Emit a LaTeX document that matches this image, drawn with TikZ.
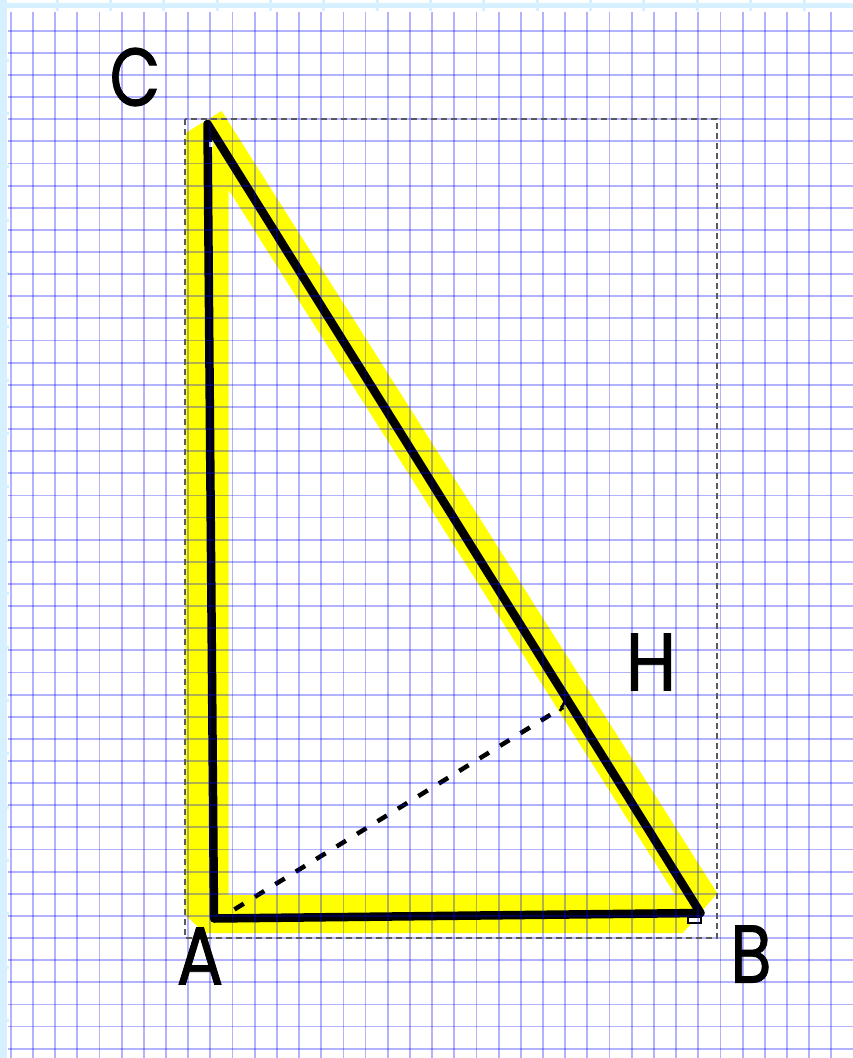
\documentclass[tikz,border=0pt]{standalone}
\usepackage{fontspec}
\newfontfamily\lblfont{Poppins}[FakeBold=1.0]
\begin{document}
\begin{tikzpicture}[x=1pt,y=-1pt,
  gridline/.style={draw=blue,draw opacity=0.3,line width=1.8pt},
  rulerband/.style={fill={rgb,255:red,214;green,240;blue,255}},
  rulertick/.style={draw={rgb,255:red,214;green,240;blue,255},line width=3pt},
  hilite/.style={fill={rgb,255:red,255;green,255;blue,0},even odd rule},
  frame/.style={draw={rgb,255:red,90;green,90;blue,90},line width=1.2pt,dash pattern=on 6pt off 4pt},
  leg/.style={draw=black,line width=8.5pt,line join=round,line cap=round},
  altline/.style={draw=black,line width=4.5pt,dash pattern=on 11pt off 13pt},
  ptmark/.style={fill=white,draw=black,line width=1.2pt},
  lbl/.style={inner sep=0pt,font=\lblfont\fontsize{82}{82}\selectfont,text=black}]
\useasboundingbox (0,0) rectangle (853,1058);
\fill[white] (0,0) rectangle (853,1058);
% ruler
\fill[rulerband] (0,3) rectangle (853,7.5);
\fill[rulerband] (0,0) rectangle (6.5,1058);
\foreach \k in {0,...,14} \draw[rulertick] ({57+53.36*\k},0) -- ({57+53.36*\k},11);
\foreach \k in {0,...,18} \draw[rulertick] (0,{60+53.37*\k}) -- (9,{60+53.37*\k});
% yellow highlight
\fill[hilite] (185.5,133) -- (221.7,111) -- (717.3,893.3) -- (683,933) -- (205,933) -- (185,915) -- cycle
  (228.5,189.6) -- (228.5,895) -- (675.4,895) -- cycle;
% points
\coordinate (A) at (214,918.5);
\coordinate (B) at (700.5,913);
\coordinate (C) at (207.5,124);
\coordinate (Ad) at (214,922);
\coordinate (H) at (563,707);
\coordinate (Ht) at (560,711);
\coordinate (Hu) at (566,699);
% altitude
\draw[altline,shorten <=24pt] (Ad) -- (H);
\draw[black,line width=2.5pt] (Ht) -- (Hu);
% triangle
\draw[leg] (A) -- (B) -- (C) -- cycle;
\draw[ptmark] (688,917) rectangle (701,923);
\fill[white] (209,142) rectangle (213,146.5);
% grid (over the drawing, as on the reference)
\foreach \i in {0,...,37} \draw[gridline] ({10.7+22.18*\i},12) -- ({10.7+22.18*\i},1058);
\foreach \j in {0,...,46} \draw[gridline] (8,{30.7+22.13*\j}) -- (853,{30.7+22.13*\j});
% frame
\draw[frame] (185,119) rectangle (717,938);
% labels
\node[lbl] (lC) at (135,77) {\scalebox{0.8}[1]{C}};
\node[lbl] (lA) at (200,956) {\scalebox{0.85}[1]{A}};
\node[lbl] (lB) at (751,954) {\scalebox{0.82}[1]{B}};
\node[lbl] (lH) at (651,662) {\scalebox{0.9}[1]{H}};
\end{tikzpicture}
\end{document}
